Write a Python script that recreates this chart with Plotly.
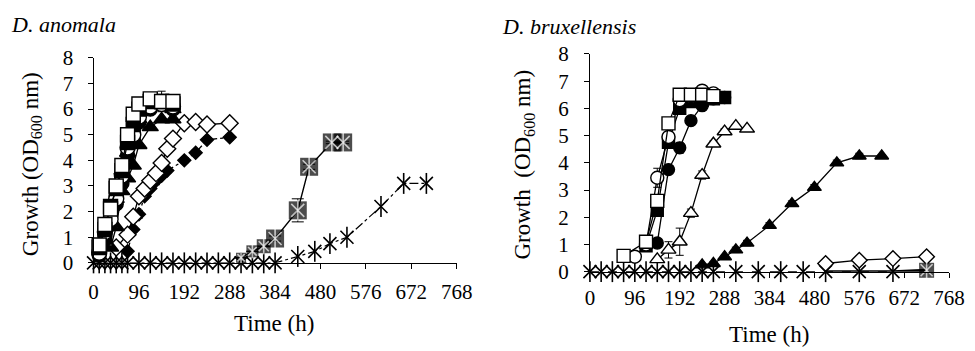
import plotly.graph_objects as go

FONT = '"Liberation Serif", "Times New Roman", Times, serif'

# ---------------- D. anomala (left panel) ----------------
A_T_FAST = [12, 24, 36, 48, 60, 72, 84, 96, 120, 144, 168]
A_SQ_OPEN = [0.7, 1.5, 2.1, 3.0, 3.8, 5.0, 5.8, 6.2, 6.4, 6.3, 6.3]
A_SQ_FILL = [0.6, 1.3, 2.2, 2.9, 3.6, 4.7, 5.4, 6.0, 6.3, 6.3, 6.2]
A_CI_OPEN = [0.4, 1.2, 1.7, 2.5, 3.4, 4.5, 5.0, 5.7, 6.1, 6.2, 6.1]
A_CI_FILL = [0.3, 0.9, 1.5, 2.3, 3.1, 4.2, 4.9, 5.5, 6.0, 6.2, 6.0]
A_T_TRI_OPEN = [24, 36, 48, 60, 72, 84, 96, 120, 144, 168]
A_TRI_OPEN = [0.8, 1.5, 2.5, 3.6, 4.3, 4.9, 5.6, 6.3, 6.3, 6.0]
A_TRI_OPEN_ERR = [0.1, 0.1, 0.1, 0.1, 0.1, 0.1, 0.1, 0.2, 0.4, 0.1]
A_T_TRI_FILL = [36, 48, 60, 72, 84, 96, 120, 144, 168]
A_TRI_FILL = [0.6, 1.4, 2.8, 3.3, 3.8, 4.6, 5.3, 5.6, 5.6]
A_T_DIA_OPEN = [48, 72, 84, 96, 108, 120, 132, 144, 156, 168, 192, 216, 240, 288]
A_DIA_OPEN = [0.6, 1.1, 1.8, 2.6, 2.9, 3.2, 3.5, 3.9, 4.45, 4.85, 5.45, 5.5, 5.4, 5.45]
A_DIA_OPEN_ERR = [0.05, 0.1, 0.1, 0.1, 0.1, 0.1, 0.1, 0.1, 0.1, 0.1, 0.05, 0.05, 0.15, 0.05]
A_T_DIA_FILL = [72, 84, 96, 108, 120, 132, 144, 156, 192, 216, 240, 288]
A_DIA_FILL = [0.45, 1.3, 1.9, 2.6, 2.9, 3.2, 3.4, 3.6, 4.0, 4.3, 4.8, 4.9]
A_DIA_FILL_ERR = [0.1, 0.1, 0.15, 0.1, 0.1, 0.15, 0.1, 0.1, 0.1, 0.1, 0.1, 0.1]
A_T_SQAST = [312, 336, 360, 384, 432, 456, 504, 528]
A_SQAST = [0.2, 0.45, 0.65, 0.95, 2.05, 3.75, 4.7, 4.7]
A_SQAST_ERR = [0.0, 0.0, 0.0, 0.1, 0.45, 0.1, 0.05, 0.05]
A_T_AST = [0, 12, 24, 36, 48, 60, 72, 96, 120, 144, 168, 192, 216, 240, 264, 288,
           312, 336, 360, 384, 432, 468, 500, 536, 608, 656, 704]
A_AST = [0, 0, 0, 0, 0, 0, 0, 0, 0, 0, 0, 0, 0, 0, 0, 0,
         0, 0, 0, 0, 0.25, 0.45, 0.75, 1.0, 2.2, 3.1, 3.1]

# ---------------- D. bruxellensis (right panel) ----------------
B_T_SQ_OPEN = [72, 120, 144, 168, 192, 216, 240, 264]
B_SQ_OPEN = [0.58, 1.1, 2.6, 5.45, 6.5, 6.5, 6.5, 6.45]
B_SQ_OPEN_ERR = [0.05, 0.1, 0.2, 0.1, 0.1, 0.1, 0.1, 0.1]
B_T_SQ_FILL = [120, 144, 168, 192, 216, 240, 264, 288]
B_SQ_FILL = [0.95, 2.25, 4.75, 6.0, 6.25, 6.3, 6.35, 6.4]
B_T_CI_OPEN = [96, 120, 144, 168, 192, 216, 240, 264]
B_CI_OPEN = [0.55, 1.0, 3.45, 4.95, 6.3, 6.45, 6.65, 6.55]
B_CI_OPEN_ERR = [0.05, 0.1, 0.35, 0.1, 0.1, 0.1, 0.1, 0.1]
B_T_CI_FILL = [120, 144, 168, 192, 216, 240, 264, 288]
B_CI_FILL = [1.0, 1.05, 3.75, 4.55, 5.55, 6.1, 6.35, 6.4]
B_CI_FILL_ERR = [0.1, 0.1, 0.1, 0.2, 0.15, 0.15, 0.1, 0.1]
B_T_TRI_OPEN = [144, 168, 192, 216, 240, 264, 288, 312, 336]
B_TRI_OPEN = [0.45, 0.8, 1.1, 2.15, 3.55, 4.7, 5.15, 5.35, 5.25]
B_TRI_OPEN_ERR = [0.05, 0.3, 0.5, 0.15, 0.15, 0.1, 0.1, 0.05, 0.05]
B_T_TRI_FILL = [240, 264, 288, 312, 336, 384, 432, 480, 528, 576, 624]
B_TRI_FILL = [0.25, 0.3, 0.55, 0.8, 1.05, 1.7, 2.5, 3.1, 4.0, 4.25, 4.25]
B_TRI_FILL_ERR = [0.05, 0.05, 0.05, 0.1, 0.1, 0.1, 0.1, 0.1, 0.1, 0.1, 0.05]
B_T_DIA_OPEN = [504, 576, 648, 720]
B_DIA_OPEN = [0.3, 0.42, 0.48, 0.55]
B_T_AST = [0, 24, 48, 72, 96, 120, 144, 168, 192, 216, 240, 264,
           312, 360, 408, 456, 504, 576, 648]
B_AST = [0] * 19
B_T_SQAST = [504, 576, 648, 720]
B_SQAST = [0, 0, 0, 0.05]

TICKS = [0, 96, 192, 288, 384, 480, 576, 672, 768]

# the page frame the figure is laid out in (observed)
OX, OY, FW, FH = 8, 8, 959, 335


def px2x(px):
    return (px - OX) / FW


def py2y(py):
    return 1 - (py - OY) / FH


fig = go.Figure()


def axes(panel):
    return ("x", "y") if panel == 1 else ("x2", "y2")


def add(panel, t, v, symbol, filled, size, dash="solid", err=None, lw=1.3):
    xa, ya = axes(panel)
    fig.add_trace(go.Scatter(
        x=t, y=v, xaxis=xa, yaxis=ya, mode="lines+markers",
        line=dict(color="black", width=lw, dash=dash),
        marker=dict(symbol=symbol, size=size,
                    color="black" if filled else "white",
                    line=dict(color="black", width=1.4)),
        error_y=dict(type="data", array=err if err is not None else [],
                     visible=err is not None, color="black",
                     thickness=1, width=4),
        cliponaxis=False, showlegend=False, hoverinfo="skip"))


def add_star(panel, t, v, size, dash="solid", err=None, box=None, lw=1.3,
             box_sizes=None):
    xa, ya = axes(panel)
    star_col = "black"
    if box is not None:
        star_col = "white"
        fig.add_trace(go.Scatter(
            x=t, y=v, xaxis=xa, yaxis=ya, mode="lines+markers",
            line=dict(color="black", width=lw, dash=dash),
            marker=dict(symbol="square", size=box_sizes if box_sizes else box,
                        color="black", line=dict(width=0)),
            error_y=dict(type="data", array=err if err is not None else [],
                         visible=err is not None, color="black",
                         thickness=1, width=6),
            cliponaxis=False, showlegend=False, hoverinfo="skip"))
        mode0 = "markers"
    else:
        mode0 = "lines+markers"
    if box_sizes is None:
        sz = size
        sz2 = size * 1.15
    else:
        sz = [size * s / max(box_sizes) if s else 0 for s in box_sizes]
        sz2 = [s * 1.15 for s in sz]
    fig.add_trace(go.Scatter(
        x=t, y=v, xaxis=xa, yaxis=ya, mode=mode0,
        line=dict(color="black", width=lw, dash=dash),
        marker=dict(symbol="x-thin-open", size=sz, color=star_col,
                    line=dict(color=star_col, width=1.6)),
        cliponaxis=False, showlegend=False, hoverinfo="skip"))
    fig.add_trace(go.Scatter(
        x=t, y=v, xaxis=xa, yaxis=ya, mode="markers",
        marker=dict(symbol="line-ns-open", size=sz2,
                    color=star_col, line=dict(color=star_col, width=1.6)),
        cliponaxis=False, showlegend=False, hoverinfo="skip"))


# left panel
add_star(1, A_T_AST, A_AST, 13, dash="dashdot", lw=1.2)
add(1, A_T_DIA_FILL, A_DIA_FILL, "diamond", True, 10, dash="dashdot", err=A_DIA_FILL_ERR)
add(1, A_T_DIA_OPEN, A_DIA_OPEN, "diamond", False, 13, err=A_DIA_OPEN_ERR)
add(1, A_T_TRI_FILL, A_TRI_FILL, "triangle-up", True, 14)
add(1, A_T_TRI_OPEN, A_TRI_OPEN, "triangle-up", False, 14, err=A_TRI_OPEN_ERR)
add(1, A_T_FAST, A_CI_FILL, "circle", True, 14)
add(1, A_T_FAST, A_CI_OPEN, "circle", False, 15)
add(1, A_T_FAST, A_SQ_FILL, "square", True, 14)
add(1, A_T_FAST, A_SQ_OPEN, "square", False, 14)
add_star(1, A_T_SQAST, A_SQAST, 13, err=A_SQAST_ERR, box=18, lw=1.4,
         box_sizes=[10, 12, 14, 18, 18, 18, 18, 18])

# right panel
add_star(2, B_T_AST, B_AST, 13, dash="dash", lw=1.2)
add(2, B_T_DIA_OPEN, B_DIA_OPEN, "diamond", False, 12)
add_star(2, B_T_SQAST, B_SQAST, 12, box=15, lw=3, box_sizes=[0, 0, 0, 15])
add(2, B_T_TRI_FILL, B_TRI_FILL, "triangle-up", True, 12, err=B_TRI_FILL_ERR)
add(2, B_T_TRI_OPEN, B_TRI_OPEN, "triangle-up", False, 13, err=B_TRI_OPEN_ERR)
add(2, B_T_CI_FILL, B_CI_FILL, "circle", True, 12, err=B_CI_FILL_ERR)
add(2, B_T_SQ_FILL, B_SQ_FILL, "square", True, 12)
add(2, B_T_CI_OPEN, B_CI_OPEN, "circle", False, 13, err=B_CI_OPEN_ERR)
add(2, B_T_SQ_OPEN, B_SQ_OPEN, "square", False, 13, err=B_SQ_OPEN_ERR)

W, H = 975, 351

xcommon = dict(range=[0, 768], tickvals=TICKS, ticktext=[str(v) for v in TICKS],
               showline=True, linecolor="black", linewidth=1, ticks="outside",
               ticklen=5, tickcolor="black", showgrid=False, zeroline=False,
               tickfont=dict(family=FONT, size=21, color="black"))
ycommon = dict(range=[0, 8], tickvals=list(range(9)), showline=True,
               linecolor="black", linewidth=1, ticks="outside", ticklen=5,
               tickcolor="black", showgrid=False, zeroline=False,
               tickfont=dict(family=FONT, size=21, color="black"))

fig.update_layout(
    width=W, height=H, margin=dict(l=0, r=0, t=0, b=0),
    paper_bgcolor="white", plot_bgcolor="white",
    xaxis=dict(domain=[px2x(97), px2x(462)], anchor="y", ticklabelstandoff=5, **xcommon),
    yaxis=dict(domain=[py2y(265), py2y(55)], anchor="x", ticklabelstandoff=10, **ycommon),
    xaxis2=dict(domain=[px2x(596), px2x(957)], anchor="y2", ticklabelstandoff=2, **xcommon),
    yaxis2=dict(domain=[py2y(274), py2y(51)], anchor="x2", ticklabelstandoff=11, **ycommon),
    font=dict(family=FONT, color="black"),
)

ann = [
    dict(text="<i>D. anomala</i>", x=12, y=21, xanchor="left", size=22),
    dict(text="<i>D. bruxellensis</i>", x=506, y=23, xanchor="left", size=22),
    dict(text="Time (h)", x=278, y=327, xanchor="center", size=23),
    dict(text="Time (h)", x=776, y=338, xanchor="center", size=23),
]
for a in ann:
    fig.add_annotation(text=a["text"], xref="paper", yref="paper",
                       x=px2x(a["x"]), y=py2y(a["y"]), xanchor=a["xanchor"],
                       yanchor="middle", showarrow=False,
                       font=dict(family=FONT, size=a["size"], color="black"))
for txt, x, y in [("Growth (OD<sub>600</sub> nm)", 35, 164),
                  ("Growth  (OD<sub>600</sub> nm)", 530, 164)]:
    fig.add_annotation(text=txt, xref="paper", yref="paper", x=px2x(x), y=py2y(y),
                       xanchor="center", yanchor="middle", textangle=-90,
                       showarrow=False,
                       font=dict(family=FONT, size=23, color="black"))

fig.write_html("out.html")
